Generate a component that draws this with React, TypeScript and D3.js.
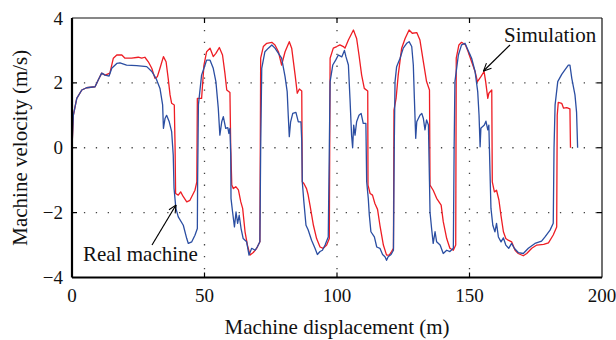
import * as d3 from 'd3';

// Real machine trace (displacement m, velocity m/s)
const realDisp = [
  0, 0.5, 1.8, 3.7, 5.5, 8.7, 9.9, 11.2, 12.5, 14, 15, 16.9, 18.1, 20.6, 24.4, 28.2, 30.1, 31.7, 33.2, 34.2,
  34.5, 35.1, 35.7, 36.7, 37.6, 38.2, 38.5, 39.2, 40.1, 42, 43.3, 43.9, 45.2, 46.4, 47.3, 47.4, 47.7, 48.9,
  50.2, 50.8, 52.1, 53.3, 54.3, 55.2, 55.8, 56.5, 57.1, 58, 58.8, 59.2, 59.6, 59.9, 60, 60.6, 61.3, 61.9,
  62.5, 63.1, 63.8, 64.6, 65.9, 66.8, 67.8, 69.1, 69.9, 70.9, 71.2, 71.6, 72.8, 74.1, 75.4, 76.6, 77.9,
  79.1, 80.4, 81.2, 81.6, 82, 82.5, 83.3, 84.5, 85.4, 86.4, 86.7, 86.9, 87.5, 88.3, 89.1, 90.4, 91.7, 92.6,
  93.6, 94.5, 95.5, 96.7, 97.1, 97.4, 98.4, 99.5, 100.5, 101.8, 102.8, 103.4, 104.3, 104.9, 105.5, 105.9,
  106.3, 106.8, 107.4, 108.3, 109.1, 109.9, 110.9, 111.2, 111.8, 112.2, 112.8, 114.1, 115, 116.2, 117.2,
  118.1, 118.7, 119.3, 120.4, 121.3, 121.6, 121.9, 122.5, 123.8, 125, 126.3, 127.2, 128.2, 128.8, 129.2,
  129.7, 130.1, 131.3, 132, 132.6, 133.2, 133.8, 134.5, 134.9, 135.1, 135.7, 136.3, 137, 137.6, 138.9,
  140.1, 141.4, 142.6, 143.9, 144.2, 144.5, 145.8, 147, 148.3, 149.5, 150.8, 152.1, 153.1, 153.6, 154,
  154.3, 154.9, 155.6, 156.2, 156.9, 157.3, 157.7, 158.1, 158.8, 159.6, 160.2, 160.9, 161.9, 162.8, 163.7,
  164.8, 165.9, 166.9, 168.4, 170.3, 172.2, 174.7, 177.2, 178.5, 180.4, 181.6, 181.9, 182.3, 183.3, 184.8,
  186, 187.3, 187.9, 188.6, 189.8, 190.4, 190.8,
];
const realVel = [
  0, 1.0, 1.52, 1.78, 1.85, 1.88, 2.09, 2.3, 2.24, 2.21, 2.45, 2.6, 2.62, 2.55, 2.53, 2.5, 2.35, 2.14, 1.83, 1.32,
  0.6, 0.9, 1.0, 0.8, 0.5, -0.22, -1.25, -1.87, -2.13, -2.39, -2.8, -2.95, -2.9, -2.7, -2.49, -1.05, 1.32, 2.24,
  2.55, 2.7, 2.7, 2.45, 2.04, 1.22, 0.39, 0.8, 0.96, 0.6, 0.62, 0.44, 0.6, -0.22, -1.56, -1.98, -2.44, -1.98,
  -2.33, -2.08, -2.49, -2.8, -2.9, -3.31, -3.1, -3.16, -3.06, -2.9, 0, 2.45, 2.96, 3.07, 3.17, 3.07, 2.91,
  2.76, 2.19, 1.73, 1.0, 0.34, 0.8, 1.06, 1.09, 0.8, 0.8, 0.2, -1.05, -1.67, -2.39, -2.53, -2.85, -3.1, -3.29,
  -3.2, -3.16, -3.0, -2.75, 0, 2.04, 2.55, 2.7, 2.86, 2.8, 3.0, 2.8, 2.55, 1.52, 0.39, 0.0,
  0.7, 0.39, 0.8, 1.0, 1.06, 0.75, 0.75, -1.05, -1.56, -2.08, -2.59, -2.75, -3.06, -3.1, -3.29,
  -3.36, -3.47, -3.36, -3.29, -3.16, 0, 2.04, 2.5, 2.76, 3.07, 3.22, 3.27, 3.12, 2.55, 1.52,
  0.29, 0.8, 1.0, 1.06, 0.9, 0.55, 0.86, 0.7, -1.05, -1.98, -2.49, -2.95, -2.59, -2.9, -3.0,
  -3.26, -3.16, -3.2, -3.1, 0, 2.04, 2.86, 3.17, 3.22, 3.0, 2.76, 2.35, 1.73, 1.0, 0.03,
  0.6, 0.65, 0.7, 0.82, 0.55, 0.7, -0.64, -1.87, -2.39, -2.59, -2.33, -2.75, -2.9, -2.78, -3.0,
  -3.1, -2.95, -3.1, -3.23, -3.26, -3.1, -2.95, -2.88, -2.75, -2.54, -2.33, 0, 1.32, 2.04, 2.26,
  2.4, 2.55, 2.55, 2.14, 1.63, 1.1, 0,
];

// Simulation trace
const simDisp = [
  0, 0.5, 1.8, 3.7, 5.5, 8.7, 9.9, 11.2, 12.5, 14.3, 15.6, 16.9, 18.8, 20, 22.5, 25, 26.3, 27.5, 28.8, 30.1,
  31.3, 32.2, 33.2, 34.5, 35.5, 36.3, 37, 37.6, 38.6, 38.9, 39.1, 40.1, 41, 42, 43.3, 44.5, 46.4, 47.1, 47.3,
  48.9, 49.8, 50.8, 52.1, 53.3, 54.3, 55.6, 56.8, 57.7, 58.4, 59.6, 59.9, 60.3, 60.9, 61.8, 62.8, 63.7, 64.4,
  65.3, 66.2, 67.2, 68.4, 69.7, 70.9, 71.2, 72.2, 73.5, 75.4, 76.6, 77.9, 79.1, 80.4, 82, 82.9, 84.2, 85,
  85.8, 86.7, 86.9, 87.5, 88.5, 89.1, 89.8, 91.1, 92.3, 93.6, 94.8, 96.1, 97.1, 97.4, 98.6, 99.9, 101.1,
  102.4, 103, 104.3, 106.2, 107.4, 108.3, 109.3, 110.3, 111.6, 111.7, 112.5, 113.4, 114.3, 115.3, 116.2,
  117.5, 118.7, 119.7, 120.6, 121.3, 121.5, 122.3, 123.1, 124.4, 125.7, 127.2, 128.4, 130.1, 131.3, 132.6,
  133.8, 134.9, 135.1, 136.3, 137.6, 139.3, 140.1, 141.4, 142.6, 143.9, 144.8, 145, 146, 147, 148.5, 149.5,
  150.8, 152.1, 153, 154.3, 155.5, 156.1, 156.9, 157.3, 158.4, 158.6, 159.4, 160.2, 161.1, 161.9, 162.8,
  163.7, 164.6, 165.9, 167.2, 168.4, 170.3, 171.6, 173.5, 175.4, 178, 179.8, 181.6, 182.9, 183.1, 183.5,
  184.8, 185.5, 186.7, 187.9, 188.1,
];
const simVel = [
  0, 1.0, 1.52, 1.78, 1.85, 1.88, 2.09, 2.3, 2.24, 2.3, 2.76, 2.86, 2.86, 2.76, 2.76, 2.79, 2.76, 2.79, 2.65, 2.45,
  2.14, 2.19, 2.45, 2.81, 2.65, 2.14, 1.63, 1.37, 1.32, 0, -1.41, -1.46, -1.36, -1.51, -1.67, -1.62, -1.31, -1.05, 1.52,
  1.52, 2.55, 2.96, 3.07, 2.81, 2.91, 3.09, 2.86, 2.3, 1.78, 1.7, 0, -1.15, -1.26, -1.2, -1.3, -1.67, -1.87,
  -2.59, -3.0, -3.31, -3.23, -3.1, -2.9, 2.76, 3.12, 3.22, 3.25, 3.17, 2.96, 2.55, 2.96, 3.27, 3.07, 2.24, 1.68,
  1.81, 1.75, -1.05, -1.1, -1.26, -1.45, -1.77, -2.39, -2.8, -3.06, -3.1, -3.0, -2.8, 2.76, 3.07, 3.12, 3.17,
  3.12, 3.07, 3.32, 3.63, 3.37, 2.86, 2.24, 1.83, 1.75, -1.15, -1.41, -1.46, -1.72, -1.9, -2.39,
  -3.0, -3.31, -3.31, -3.2, -3.1, 1.16, 1.52, 2.24, 3.07, 3.37, 3.63, 3.53, 3.55, 3.32, 2.65,
  2.04, 1.78, -1.15, -1.31, -1.56, -1.77, -2.28, -2.8, -3.1, -3.16, -3.0, 2.76, 3.17, 3.25, 3.17, 2.96,
  2.65, 2.35, 2.04, 2.19, 2.35, 2.04, 1.52, 1.68, 1.78, -1.05, -1.36, -1.31, -1.61, -2.1, -2.59,
  -2.8, -2.85, -2.9, -3.16, -3.26, -3.33, -3.26, -3.1, -3.0, -2.98, -2.93, -2.69, -2.44, 1.0, 1.4,
  1.37, 1.22, 1.24, 1.2, 0,
];

const xTicks = [0, 50, 100, 150, 200];
const yTicks = [-4, -2, 0, 2, 4];

const font = "'Liberation Serif', 'DejaVu Serif', serif";
const textStyle = { fontFamily: font, fill: '#111' };

export default function App() {
  const width = 616;
  const height = 340;
  const left = 72;
  const right = 602;
  const top = 18;
  const bottom = 277.5;

  const x = d3.scaleLinear().domain([0, 200]).range([left, right]);
  const y = d3.scaleLinear().domain([-4, 4]).range([bottom, top]);

  const line = d3
    .line<number>()
    .x((d) => x(d))
    .curve(d3.curveLinear);

  const realPath = line.y((_, i) => y(realVel[i]))(realDisp) ?? '';
  const simPath = line.y((_, i) => y(simVel[i]))(simDisp) ?? '';

  const gridX = xTicks.slice(1, -1);
  const gridY = yTicks.slice(1, -1);

  return (
    <svg
      width={width}
      height={height}
      style={{ position: 'absolute', left: 0, top: 0, background: '#fff' }}
    >
      <defs>
        <marker
          id='arrow'
          viewBox='0 0 10 10'
          refX={9.5}
          refY={5}
          markerWidth={9}
          markerHeight={9}
          markerUnits='userSpaceOnUse'
          orient='auto'
        >
          <path d='M1,1 L9.5,5 L1,9' fill='none' stroke='#000' strokeWidth={1.2} />
        </marker>
      </defs>

      {/* dotted grid */}
      {gridY.map((t) => (
        <line
          key={'gy' + t}
          x1={left}
          x2={right}
          y1={y(t)}
          y2={y(t)}
          stroke='#444'
          strokeWidth={1.3}
          strokeDasharray='1.3 10.6'
        />
      ))}
      {gridX.map((t) => (
        <line
          key={'gx' + t}
          x1={x(t)}
          x2={x(t)}
          y1={top}
          y2={bottom}
          stroke='#444'
          strokeWidth={1.3}
          strokeDasharray='1.3 10.6'
        />
      ))}

      {/* series */}
      <path d={simPath} fill='none' stroke='#ee1d24' strokeWidth={1.3} strokeLinejoin='round' />
      <path d={realPath} fill='none' stroke='#2b4ea2' strokeWidth={1.3} strokeLinejoin='round' />

      {/* box */}
      <line x1={left} x2={right} y1={top} y2={top} stroke='#111' strokeWidth={1.2} />
      <line x1={right} x2={right} y1={top} y2={bottom} stroke='#111' strokeWidth={1.2} />
      <line x1={left} x2={right} y1={bottom} y2={bottom} stroke='#000' strokeWidth={2.2} />
      <line x1={left} x2={left} y1={top} y2={bottom} stroke='#000' strokeWidth={2.2} />

      {/* ticks */}
      {gridX.map((t) => (
        <g key={'tx' + t}>
          <line x1={x(t)} x2={x(t)} y1={bottom} y2={bottom - 5} stroke='#000' strokeWidth={1.2} />
          <line x1={x(t)} x2={x(t)} y1={top} y2={top + 5} stroke='#000' strokeWidth={1.2} />
        </g>
      ))}
      {gridY.map((t) => (
        <g key={'ty' + t}>
          <line x1={left} x2={left + 5} y1={y(t)} y2={y(t)} stroke='#000' strokeWidth={1.2} />
          <line x1={right} x2={right - 5} y1={y(t)} y2={y(t)} stroke='#000' strokeWidth={1.2} />
        </g>
      ))}

      {/* tick labels */}
      {xTicks.map((t) => (
        <text
          key={'lx' + t}
          x={x(t)}
          y={bottom + 24}
          textAnchor='middle'
          fontSize={19}
          style={textStyle}
        >
          {t}
        </text>
      ))}
      {yTicks.map((t) => (
        <text
          key={'ly' + t}
          x={left - 9}
          y={y(t)}
          textAnchor='end'
          dominantBaseline='central'
          fontSize={19}
          style={textStyle}
        >
          {t < 0 ? '\u2212' + Math.abs(t) : t}
        </text>
      ))}

      {/* axis titles */}
      <text x={(left + right) / 2} y={334} textAnchor='middle' fontSize={21} style={textStyle}>
        Machine displacement (m)
      </text>
      <text
        transform={`translate(27,${(top + bottom) / 2}) rotate(-90)`}
        textAnchor='middle'
        fontSize={21}
        style={textStyle}
      >
        Machine velocity (m/s)
      </text>

      {/* annotations */}
      <line x1={510} y1={45} x2={483.5} y2={71} stroke='#000' strokeWidth={1.2} markerEnd='url(#arrow)' />
      <text x={504} y={42} fontSize={21} style={textStyle}>
        Simulation
      </text>
      <line x1={152} y1={245} x2={176} y2={205} stroke='#000' strokeWidth={1.2} markerEnd='url(#arrow)' />
      <text x={83} y={261} fontSize={21} style={textStyle}>
        Real machine
      </text>
    </svg>
  );
}
